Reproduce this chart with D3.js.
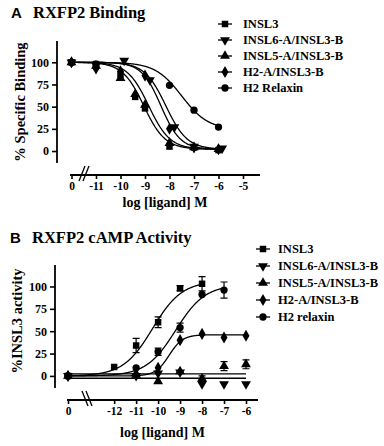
<!DOCTYPE html>
<html>
<head>
<meta charset="utf-8">
<script src="https://cdn.jsdelivr.net/npm/d3@7"></script>
<style>
    body { margin: 0; background: #ffffff; }
    svg text { font-family: "Liberation Serif", "Times New Roman", serif; font-weight: bold; fill: #000; }
</style>
</head>
<body>
<div id="chart"></div>
<script>
// series names (legend order)
var namesA = ['INSL3', 'INSL6-A/INSL3-B', 'INSL5-A/INSL3-B', 'H2-A/INSL3-B', 'H2 Relaxin'];
var namesB = ['INSL3', 'INSL6-A/INSL3-B', 'INSL5-A/INSL3-B', 'H2-A/INSL3-B', 'H2 relaxin'];
var yTickValues = [0, 25, 50, 75, 100];
var xTicksA = [0, -11, -10, -9, -8, -7, -6, -5];
var xTicksB = [0, -12, -11, -10, -9, -8, -7, -6];

// A: binding points, x = log[ligand] (0 = no ligand)
var bindX = [
    [0, -11, -10, -9.4, -9, -8, -7, -6],
    [0, -11, -9.85, -8.8, -7.8, -7, -5.85],
    [0, -11, -10, -9.4, -9, -8, -7, -6],
    [0, -11, -10, -9, -8, -7, -6],
    [0, -11, -8, -7, -6]
];
var bindY = [
    [100, 98, 86, 61, 48, 5, 4, 1],
    [100, 97, 102, 80, 27, 5, 3],
    [100, 96, 82, 64, 52, 9, 4, 2],
    [100, 93, 90, 85, 25, 4, 2],
    [100, 98, 74, 46, 27]
];
// A: fitted curves
var bindLogIC50 = [-9.05, -8.15, -8.85, -8.35, -7.5];
var bindTop = [100, 100, 100, 100, 100];
var bindBottom = [2, 2, 2, 2, 24];
var bindHill = [1, 1, 1, 1.1, 0.8];

// B: cAMP points
var campX = [
    [0, -12, -11, -10, -9, -8],
    [0, -11, -10, -9, -8, -7, -6],
    [0, -11, -10, -9, -8, -7, -6],
    [0, -11, -10, -9, -8, -7, -6],
    [0, -11, -10, -9, -8, -7]
];
var campY = [
    [0, 10, 34, 60, 98, 103],
    [0, 0, 3, 4, -9, -9, -9],
    [0, 1, -6, 5, -3, 11, 13],
    [0, 2, 9, 40, 47, 43, 45],
    [0, 9, 27, 54, 91, 96]
];
var campErr = [
    [0, 0, 8, 6, 3, 8],
    [0, 0, 0, 0, 0, 0, 0],
    [0, 0, 0, 0, 3, 5, 5],
    [0, 0, 0, 0, 0, 0, 0],
    [0, 0, 4, 5, 0, 9]
];
// B: fitted curves (top == bottom -> flat line)
var campLogEC50 = [-10.25, -9, -9, -9.5, -9.2];
var campTop = [106, -2.6, 2.2, 46, 102];
var campBottom = [0, -2.6, 2.2, 0, 0];
var campHill = [0.65, 1, 1, 1.4, 0.65];

var symbolTypes = [d3.symbolSquare, d3.symbolTriangle, d3.symbolTriangle, d3.symbolDiamond, d3.symbolCircle];
var symbolRotate = [0, 180, 0, 0, 0];

var svg = d3.select('#chart').append('svg')
    .attr('width', 384)
    .attr('height', 446);

function drawPanel(cfg) {
    var g = svg.append('g');
    var x = d3.scaleLinear().domain(cfg.xDomain).range(cfg.xRange);
    var y = d3.scaleLinear().domain([-13.5, 124]).range(cfg.yRange);
    var px = function (v) { return v === 0 ? x(cfg.ctrlPos) : x(v); };

    //letter + title
    g.append('text')
        .attr('x', cfg.letterX).attr('y', cfg.titleY)
        .style('font-family', '"Liberation Sans", Arial, sans-serif')
        .style('font-size', '15px')
        .text(cfg.letter);
    g.append('text')
        .attr('x', cfg.titleX).attr('y', cfg.titleY)
        .style('font-size', '16.5px')
        .text(cfg.title);

    //y axis
    var yAxis = g.append('g')
        .attr('transform', 'translate(' + cfg.yAxisX + ',0)')
        .call(d3.axisLeft(y).tickValues(yTickValues).tickSize(5).tickPadding(3).tickSizeOuter(0));
    yAxis.select('.domain').remove();
    g.append('line')
        .attr('x1', cfg.yAxisX).attr('x2', cfg.yAxisX)
        .attr('y1', cfg.yRange[1]).attr('y2', cfg.yRange[0])
        .attr('stroke', '#000').attr('stroke-width', 1.8);
    yAxis.selectAll('line').attr('stroke-width', 1.6);
    yAxis.selectAll('text')
        .style('font-family', '"Liberation Serif", serif')
        .style('font-weight', 'bold')
        .style('font-size', '12px');

    //x axis
    var xAxis = g.append('g')
        .attr('transform', 'translate(0,' + cfg.xAxisY + ')')
        .call(d3.axisBottom(x)
            .tickValues(cfg.xTicks.map(function (d) { return d === 0 ? cfg.ctrlPos : d; }))
            .tickFormat(function (d, i) { return cfg.xTicks[i] === 0 ? '0' : String(cfg.xTicks[i]); })
            .tickSize(4).tickPadding(3).tickSizeOuter(0));
    xAxis.select('.domain').remove();
    g.append('line')
        .attr('x1', cfg.xLineStart).attr('x2', cfg.xLineEnd)
        .attr('y1', cfg.xAxisY).attr('y2', cfg.xAxisY)
        .attr('stroke', '#000').attr('stroke-width', 1.8);
    xAxis.selectAll('line').attr('stroke-width', 1.6);
    xAxis.selectAll('text')
        .style('font-family', '"Liberation Serif", serif')
        .style('font-weight', 'bold')
        .style('font-size', '11.5px');

    //axis break
    [0, 4].forEach(function (off) {
        var bx = cfg.breakX + off;
        g.append('line')
            .attr('x1', bx - 3 * cfg.breakDir).attr('y1', cfg.xAxisY - 9)
            .attr('x2', bx + 3 * cfg.breakDir).attr('y2', cfg.xAxisY + 6)
            .attr('stroke', '#000').attr('stroke-width', 1.3);
    });

    //axis labels
    g.append('text')
        .attr('x', (cfg.xLineStart + cfg.xLineEnd) / 2).attr('y', cfg.xLabelY)
        .attr('text-anchor', 'middle')
        .style('font-size', '14px')
        .text('log [ligand] M');
    g.append('text')
        .attr('transform', 'translate(' + cfg.yLabelX + ',' + cfg.yLabelY + ') rotate(-90)')
        .attr('text-anchor', 'middle')
        .style('font-size', '14.5px')
        .text(cfg.yLabel);

    //fitted curves
    var line = d3.line()
        .x(function (d) { return x(d[0]); })
        .y(function (d) { return y(d[1]); });
    cfg.names.forEach(function (n, s) {
        var xs = cfg.px[s].filter(function (v) { return v !== 0; });
        var end = d3.max(xs);
        var pts = d3.range(cfg.ctrlPos, end + 0.001, 0.02).map(function (v) {
            var f = cfg.bottom[s] + (cfg.top[s] - cfg.bottom[s]) /
                (1 + Math.pow(10, cfg.sign * (v - cfg.logMid[s]) * cfg.hill[s]));
            return [v, f];
        });
        g.append('path')
            .attr('d', line(pts))
            .attr('fill', 'none')
            .attr('stroke', '#000')
            .attr('stroke-width', 1.3);
    });

    //error bars + points
    cfg.names.forEach(function (n, s) {
        var sym = d3.symbol().type(symbolTypes[s]).size(42);
        cfg.px[s].forEach(function (v, i) {
            var e = cfg.err ? cfg.err[s][i] : 0;
            var cx = px(v), cy = y(cfg.py[s][i]);
            if (e > 0) {
                g.append('path')
                    .attr('d', 'M' + cx + ',' + y(cfg.py[s][i] - e) + 'V' + y(cfg.py[s][i] + e) +
                        'M' + (cx - 3.5) + ',' + y(cfg.py[s][i] + e) + 'H' + (cx + 3.5) +
                        'M' + (cx - 3.5) + ',' + y(cfg.py[s][i] - e) + 'H' + (cx + 3.5))
                    .attr('stroke', '#000').attr('stroke-width', 1.2).attr('fill', 'none');
            }
            g.append('path')
                .attr('d', sym())
                .attr('transform', 'translate(' + cx + ',' + cy + ') rotate(' + symbolRotate[s] + ')')
                .attr('fill', '#000');
        });
    });

    //legend
    cfg.names.forEach(function (n, s) {
        var ly = cfg.legendY + s * cfg.legendStep;
        g.append('line')
            .attr('x1', cfg.legendX - 7).attr('x2', cfg.legendX + 7)
            .attr('y1', ly).attr('y2', ly)
            .attr('stroke', '#000').attr('stroke-width', 1.3);
        g.append('path')
            .attr('d', d3.symbol().type(symbolTypes[s]).size(42)())
            .attr('transform', 'translate(' + cfg.legendX + ',' + ly + ') rotate(' + symbolRotate[s] + ')')
            .attr('fill', '#000');
        g.append('text')
            .attr('x', cfg.legendTextX).attr('y', ly)
            .attr('dy', '0.35em')
            .style('font-size', '12.5px')
            .text(n);
    });
}

drawPanel({
    letter: 'A', letterX: 11, title: 'RXFP2 Binding', titleX: 33, titleY: 18,
    xDomain: [-12, -5], xRange: [71.5, 243], ctrlPos: -12, xTicks: xTicksA,
    xLineStart: 70, xLineEnd: 260, xAxisY: 175, yAxisX: 57, yRange: [163, 41],
    breakX: 82, breakDir: -1, xLabelY: 207, yLabel: '% Specific Binding', yLabelX: 25, yLabelY: 102,
    names: namesA, px: bindX, py: bindY, err: null,
    logMid: bindLogIC50, top: bindTop, bottom: bindBottom, hill: bindHill, sign: 1,
    legendX: 225, legendTextX: 243, legendY: 24, legendStep: 16
});

drawPanel({
    letter: 'B', letterX: 10, title: 'RXFP2 cAMP Activity', titleX: 32, titleY: 243,
    xDomain: [-14.1, -6], xRange: [68, 246], ctrlPos: -14.1, xTicks: xTicksB,
    xLineStart: 67, xLineEnd: 258, xAxisY: 400, yAxisX: 55, yRange: [388, 265],
    breakX: 85, breakDir: 1, xLabelY: 437, yLabel: '%INSL3 activity', yLabelX: 22, yLabelY: 321,
    names: namesB, px: campX, py: campY, err: campErr,
    logMid: campLogEC50, top: campTop, bottom: campBottom, hill: campHill, sign: -1,
    legendX: 263, legendTextX: 278, legendY: 249, legendStep: 17
});
</script>
</body>
</html>
